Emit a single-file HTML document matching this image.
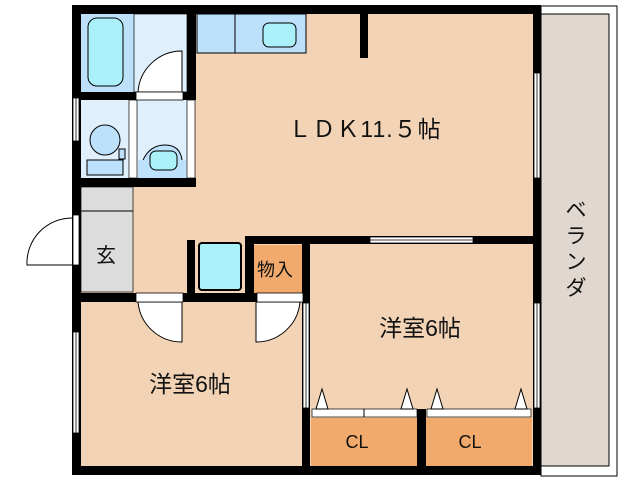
<!DOCTYPE html>
<html><head><meta charset="utf-8"><style>
html,body{margin:0;padding:0;background:#fff;}
svg{display:block;}
text{font-family:"Liberation Sans","Noto Sans CJK JP",sans-serif;fill:#111;}
</style></head><body>
<svg width="638" height="480" viewBox="0 0 638 480" xmlns="http://www.w3.org/2000/svg">
<rect x="541" y="6" width="76" height="470" fill="#fff" stroke="#000" stroke-width="1"/>
<rect x="541" y="14" width="68" height="452" fill="#e0d8d0" stroke="#000" stroke-width="1"/>
<text x="576" y="217" font-size="21" text-anchor="middle">ベ</text>
<text x="576" y="243" font-size="21" text-anchor="middle">ラ</text>
<text x="576" y="269" font-size="21" text-anchor="middle">ン</text>
<text x="576" y="295" font-size="21" text-anchor="middle">ダ</text>
<rect x="80" y="14" width="453" height="452" fill="#f2d3b6"/>
<rect x="81" y="14" width="53" height="78" fill="#bde0fb"/>
<rect x="88" y="18" width="35" height="68" rx="9" fill="#aaf0f8" stroke="#000"/>
<rect x="134" y="14" width="53" height="78" fill="#dff0fc" stroke="#000" stroke-width="0.7"/>
<path d="M138 92 A44 44 0 0 1 182 51 L182 92 Z" fill="#fff" stroke="#000"/>
<rect x="136" y="92" width="47" height="8" fill="#fff"/>
<rect x="81" y="100" width="48" height="78" fill="#dff0fc"/>
<ellipse cx="105" cy="140" rx="15" ry="15" fill="#bde0fb" stroke="#000"/>
<rect x="87" y="160" width="36" height="15" fill="#bde0fb" stroke="#000"/>
<rect x="119" y="149" width="6" height="10" fill="#bde0fb" stroke="#000"/>
<rect x="137" y="100" width="50" height="78" fill="#dff0fc"/>
<rect x="138" y="160" width="48" height="18" fill="#bde0fb"/>
<path d="M143 160 Q150 145 165 145 Q180 145 182 160" fill="#bde0fb" stroke="#000"/>
<rect x="150" y="151" width="27" height="19" rx="6" fill="#aaf0f8" stroke="#000"/>
<rect x="129" y="100" width="8" height="78" fill="#fff" stroke="#000" stroke-width="0.7"/>
<rect x="187" y="100" width="8" height="78" fill="#fff" stroke="#000" stroke-width="0.7"/>
<rect x="81" y="187" width="52" height="105" fill="#dcdcdc" stroke="#000" stroke-width="0.7"/>
<line x1="81" y1="211" x2="133" y2="211" stroke="#000"/>
<text x="106" y="262" font-size="20" text-anchor="middle">玄</text>
<path d="M72 265 L27 265 A45 45 0 0 1 72 218" fill="#fff" stroke="#000"/>
<rect x="197" y="14" width="109" height="39" fill="#bde0fb" stroke="#000"/>
<line x1="235" y1="14" x2="235" y2="53" stroke="#000"/>
<rect x="263" y="23" width="33" height="24" rx="6" fill="#aaf0f8" stroke="#000"/>
<text x="365" y="137" font-size="23" text-anchor="middle" letter-spacing="1">ＬＤＫ11.５帖</text>
<rect x="199" y="243" width="42" height="47" rx="3" fill="#aaf0f8" stroke="#000" stroke-width="2"/>
<rect x="254" y="245" width="48" height="48" fill="#f2aa6c"/>
<text x="275" y="276" font-size="18" text-anchor="middle">物入</text>
<text x="190" y="392" font-size="23" text-anchor="middle">洋室6帖</text>
<path d="M138 302 A44 44 0 0 0 182 342 L182 302 Z" fill="#fff" stroke="#000"/>
<path d="M300 302 A44 44 0 0 1 256 342 L256 302 Z" fill="#fff" stroke="#000"/>
<text x="420" y="336" font-size="23" text-anchor="middle">洋室6帖</text>
<rect x="311" y="418" width="106" height="48" fill="#f2aa6c"/>
<rect x="426" y="418" width="106" height="48" fill="#f2aa6c"/>
<text x="357" y="448" font-size="18" text-anchor="middle">CL</text>
<text x="470" y="448" font-size="18" text-anchor="middle">CL</text>
<rect x="312" y="409" width="105" height="8" fill="#fff" stroke="#000" stroke-width="0.7"/>
<line x1="364" y1="409" x2="364" y2="417" stroke="#000"/>
<rect x="427" y="409" width="104" height="8" fill="#fff" stroke="#000" stroke-width="0.7"/>
<path d="M316 409 L322 389 L328 409 Z M401 409 L407 389 L413 409 Z M431 409 L437 389 L443 409 Z M515 409 L521 389 L527 409 Z" fill="#fff" stroke="#000"/>
<g fill="#000">
<rect x="72" y="5" width="469" height="9"/>
<rect x="72" y="5" width="9" height="470"/>
<rect x="72" y="466" width="469" height="9"/>
<rect x="533" y="5" width="8" height="470"/>
<rect x="81" y="92" width="114" height="8"/>
<rect x="187" y="14" width="9" height="86"/>
<rect x="72" y="178" width="124" height="9"/>
<rect x="360" y="14" width="8" height="44"/>
<rect x="245" y="236" width="296" height="8"/>
<rect x="187" y="240" width="8" height="62"/>
<rect x="245" y="236" width="9" height="64"/>
<rect x="72" y="293" width="238" height="9"/>
<rect x="302" y="236" width="8" height="239"/>
<rect x="417" y="409" width="9" height="66"/>
</g>
<g fill="#fff" stroke="#000" stroke-width="0.8">
<rect x="73" y="98" width="6" height="43"/>
<rect x="73" y="215" width="6" height="50"/>
<rect x="73" y="332" width="6" height="101"/>
<rect x="534" y="73" width="6" height="105"/>
<rect x="534" y="303" width="6" height="105"/>
<rect x="303" y="303" width="6" height="105"/>
<rect x="370" y="237" width="103" height="6"/>
<rect x="136" y="92" width="47" height="8"/>
<rect x="136" y="293" width="47" height="9"/>
<rect x="257" y="293" width="46" height="9"/>
</g>
<g stroke="#000" stroke-width="0.8">
<line x1="76" y1="98" x2="76" y2="141"/><line x1="76" y1="332" x2="76" y2="433"/>
<line x1="537" y1="73" x2="537" y2="178"/><line x1="537" y1="303" x2="537" y2="408"/>
<line x1="306" y1="303" x2="306" y2="408"/><line x1="370" y1="240" x2="473" y2="240"/>
</g>
</svg>
</body></html>
